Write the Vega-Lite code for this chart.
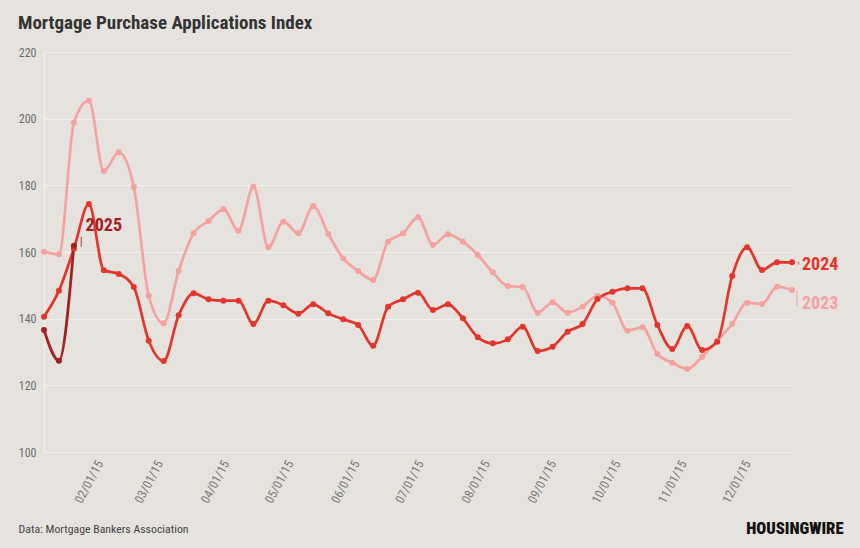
{
  "$schema": "https://vega.github.io/schema/vega-lite/v6.json",
  "width": 748,
  "height": 400,
  "autosize": {"type": "none"},
  "padding": {"left": 44, "top": 52, "right": 68, "bottom": 96},
  "background": "#e6e3df",
  "config": {
    "view": {"stroke": null},
    "font": "Roboto Condensed, Liberation Sans Narrow, DejaVu Sans Condensed, Roboto, sans-serif"
  },
  "title": {
    "text": "Mortgage Purchase Applications Index",
    "anchor": "start",
    "frame": "group",
    "dx": -26,
    "fontSize": 19,
    "fontWeight": "bold",
    "color": "#333333",
    "baseline": "alphabetic",
    "offset": -2
  },
  "data": {
    "values": [
      {"series": "2023", "date": "2015-01-06", "value": 160.1},
      {"series": "2023", "date": "2015-01-13", "value": 159.3},
      {"series": "2023", "date": "2015-01-20", "value": 198.8},
      {"series": "2023", "date": "2015-01-27", "value": 205.4},
      {"series": "2023", "date": "2015-02-03", "value": 184.3},
      {"series": "2023", "date": "2015-02-10", "value": 189.9},
      {"series": "2023", "date": "2015-02-17", "value": 179.6},
      {"series": "2023", "date": "2015-02-24", "value": 146.9},
      {"series": "2023", "date": "2015-03-03", "value": 138.6},
      {"series": "2023", "date": "2015-03-10", "value": 154.3},
      {"series": "2023", "date": "2015-03-17", "value": 165.6},
      {"series": "2023", "date": "2015-03-24", "value": 169.3},
      {"series": "2023", "date": "2015-03-31", "value": 172.8},
      {"series": "2023", "date": "2015-04-07", "value": 166.4},
      {"series": "2023", "date": "2015-04-14", "value": 179.6},
      {"series": "2023", "date": "2015-04-21", "value": 161.4},
      {"series": "2023", "date": "2015-04-28", "value": 169.1},
      {"series": "2023", "date": "2015-05-05", "value": 165.6},
      {"series": "2023", "date": "2015-05-12", "value": 173.8},
      {"series": "2023", "date": "2015-05-19", "value": 165.4},
      {"series": "2023", "date": "2015-05-26", "value": 158.1},
      {"series": "2023", "date": "2015-06-02", "value": 154.3},
      {"series": "2023", "date": "2015-06-09", "value": 151.6},
      {"series": "2023", "date": "2015-06-16", "value": 163.1},
      {"series": "2023", "date": "2015-06-23", "value": 165.6},
      {"series": "2023", "date": "2015-06-30", "value": 170.4},
      {"series": "2023", "date": "2015-07-07", "value": 162.1},
      {"series": "2023", "date": "2015-07-14", "value": 165.3},
      {"series": "2023", "date": "2015-07-21", "value": 163.1},
      {"series": "2023", "date": "2015-07-28", "value": 159.1},
      {"series": "2023", "date": "2015-08-04", "value": 153.9},
      {"series": "2023", "date": "2015-08-11", "value": 149.8},
      {"series": "2023", "date": "2015-08-18", "value": 149.5},
      {"series": "2023", "date": "2015-08-25", "value": 141.8},
      {"series": "2023", "date": "2015-09-01", "value": 144.9},
      {"series": "2023", "date": "2015-09-08", "value": 141.8},
      {"series": "2023", "date": "2015-09-15", "value": 143.6},
      {"series": "2023", "date": "2015-09-22", "value": 146.8},
      {"series": "2023", "date": "2015-09-29", "value": 144.8},
      {"series": "2023", "date": "2015-10-06", "value": 136.4},
      {"series": "2023", "date": "2015-10-13", "value": 137.4},
      {"series": "2023", "date": "2015-10-20", "value": 129.4},
      {"series": "2023", "date": "2015-10-27", "value": 126.8},
      {"series": "2023", "date": "2015-11-03", "value": 124.9},
      {"series": "2023", "date": "2015-11-10", "value": 128.6},
      {"series": "2023", "date": "2015-11-17", "value": 133.4},
      {"series": "2023", "date": "2015-11-24", "value": 138.4},
      {"series": "2023", "date": "2015-12-01", "value": 144.8},
      {"series": "2023", "date": "2015-12-08", "value": 144.4},
      {"series": "2023", "date": "2015-12-15", "value": 149.6},
      {"series": "2023", "date": "2015-12-22", "value": 148.6},
      {"series": "2024", "date": "2015-01-06", "value": 140.6},
      {"series": "2024", "date": "2015-01-13", "value": 148.4},
      {"series": "2024", "date": "2015-01-20", "value": 161.0},
      {"series": "2024", "date": "2015-01-27", "value": 174.4},
      {"series": "2024", "date": "2015-02-03", "value": 154.5},
      {"series": "2024", "date": "2015-02-10", "value": 153.4},
      {"series": "2024", "date": "2015-02-17", "value": 149.5},
      {"series": "2024", "date": "2015-02-24", "value": 133.4},
      {"series": "2024", "date": "2015-03-03", "value": 127.3},
      {"series": "2024", "date": "2015-03-10", "value": 141.0},
      {"series": "2024", "date": "2015-03-17", "value": 147.6},
      {"series": "2024", "date": "2015-03-24", "value": 145.8},
      {"series": "2024", "date": "2015-03-31", "value": 145.4},
      {"series": "2024", "date": "2015-04-07", "value": 145.4},
      {"series": "2024", "date": "2015-04-14", "value": 138.4},
      {"series": "2024", "date": "2015-04-21", "value": 145.4},
      {"series": "2024", "date": "2015-04-28", "value": 144.0},
      {"series": "2024", "date": "2015-05-05", "value": 141.5},
      {"series": "2024", "date": "2015-05-12", "value": 144.3},
      {"series": "2024", "date": "2015-05-19", "value": 141.6},
      {"series": "2024", "date": "2015-05-26", "value": 139.8},
      {"series": "2024", "date": "2015-06-02", "value": 138.1},
      {"series": "2024", "date": "2015-06-09", "value": 131.9},
      {"series": "2024", "date": "2015-06-16", "value": 143.6},
      {"series": "2024", "date": "2015-06-23", "value": 145.8},
      {"series": "2024", "date": "2015-06-30", "value": 147.8},
      {"series": "2024", "date": "2015-07-07", "value": 142.6},
      {"series": "2024", "date": "2015-07-14", "value": 144.3},
      {"series": "2024", "date": "2015-07-21", "value": 140.1},
      {"series": "2024", "date": "2015-07-28", "value": 134.4},
      {"series": "2024", "date": "2015-08-04", "value": 132.6},
      {"series": "2024", "date": "2015-08-11", "value": 133.8},
      {"series": "2024", "date": "2015-08-18", "value": 137.6},
      {"series": "2024", "date": "2015-08-25", "value": 130.3},
      {"series": "2024", "date": "2015-09-01", "value": 131.6},
      {"series": "2024", "date": "2015-09-08", "value": 136.1},
      {"series": "2024", "date": "2015-09-15", "value": 138.4},
      {"series": "2024", "date": "2015-09-22", "value": 145.9},
      {"series": "2024", "date": "2015-09-29", "value": 148.1},
      {"series": "2024", "date": "2015-10-06", "value": 149.1},
      {"series": "2024", "date": "2015-10-13", "value": 149.1},
      {"series": "2024", "date": "2015-10-20", "value": 138.1},
      {"series": "2024", "date": "2015-10-27", "value": 130.9},
      {"series": "2024", "date": "2015-11-03", "value": 137.8},
      {"series": "2024", "date": "2015-11-10", "value": 130.6},
      {"series": "2024", "date": "2015-11-17", "value": 133.1},
      {"series": "2024", "date": "2015-11-24", "value": 152.8},
      {"series": "2024", "date": "2015-12-01", "value": 161.4},
      {"series": "2024", "date": "2015-12-08", "value": 154.6},
      {"series": "2024", "date": "2015-12-15", "value": 156.9},
      {"series": "2024", "date": "2015-12-22", "value": 156.9},
      {"series": "2025", "date": "2015-01-06", "value": 136.6},
      {"series": "2025", "date": "2015-01-13", "value": 127.4},
      {"series": "2025", "date": "2015-01-20", "value": 161.9}
    ]
  },
  "encoding": {
    "x": {
      "field": "date",
      "type": "temporal",
      "scale": {
        "type": "utc",
        "domain": [
          {"year": 2015, "month": 1, "date": 6, "utc": true},
          {"year": 2015, "month": 12, "date": 22, "utc": true}
        ]
      },
      "axis": {
        "values": [
          {"year": 2015, "month": 2, "date": 1, "utc": true},
          {"year": 2015, "month": 3, "date": 1, "utc": true},
          {"year": 2015, "month": 4, "date": 1, "utc": true},
          {"year": 2015, "month": 5, "date": 1, "utc": true},
          {"year": 2015, "month": 6, "date": 1, "utc": true},
          {"year": 2015, "month": 7, "date": 1, "utc": true},
          {"year": 2015, "month": 8, "date": 1, "utc": true},
          {"year": 2015, "month": 9, "date": 1, "utc": true},
          {"year": 2015, "month": 10, "date": 1, "utc": true},
          {"year": 2015, "month": 11, "date": 1, "utc": true},
          {"year": 2015, "month": 12, "date": 1, "utc": true}
        ],
        "labelExpr": "utcFormat(datum.value, '%m/%d/%y')",
        "labelAngle": -62,
        "labelColor": "#7a7a7a",
        "labelFontSize": 12.5,
        "labelPadding": 9,
        "labelOverlap": false,
        "domain": false,
        "ticks": false,
        "grid": false,
        "title": "Data: Mortgage Bankers Association",
        "titleX": -26,
        "titleY": 80,
        "titleAlign": "left",
        "titleAnchor": null,
        "titleBaseline": "alphabetic",
        "titleFontWeight": "normal",
        "titleFontSize": 11.8,
        "titleColor": "#444444"
      }
    },
    "y": {
      "field": "value",
      "type": "quantitative",
      "scale": {"domain": [100, 220], "nice": false, "zero": false},
      "axis": {
        "values": [100, 120, 140, 160, 180, 200, 220],
        "labelColor": "#6b6b6b",
        "labelFontSize": 12,
        "labelPadding": 8,
        "ticks": false,
        "domainColor": "#f3f1ee",
        "gridColor": "#f3f1ee",
        "gridWidth": 1,
        "title": "HOUSINGWIRE",
        "titleAngle": 0,
        "titleX": 799,
        "titleY": 481,
        "titleAlign": "right",
        "titleBaseline": "alphabetic",
        "titleFontSize": 16.5,
        "titleFontWeight": 900,
        "titleColor": "#111111"
      }
    },
    "color": {
      "field": "series",
      "type": "nominal",
      "scale": {"domain": ["2023", "2024", "2025"], "range": ["#f3a29e", "#e2352c", "#a3201f"]},
      "legend": null
    }
  },
  "layer": [
    {
      "mark": {"type": "line", "interpolate": "monotone", "strokeWidth": 2.7, "point": {"filled": true, "size": 36, "opacity": 1}}
    },
    {
      "transform": [{"filter": {"and": [{"field": "series", "equal": "2024"}, {"field": "date", "equal": {"year": 2015, "month": 12, "date": 22, "utc": true}}]}}],
      "mark": {"type": "text", "align": "left", "baseline": "middle", "dx": 10, "dy": 3, "fontSize": 18, "fontWeight": "bold"},
      "encoding": {"text": {"field": "series"}}
    },
    {
      "transform": [{"filter": {"and": [{"field": "series", "equal": "2023"}, {"field": "date", "equal": {"year": 2015, "month": 12, "date": 22, "utc": true}}]}}],
      "mark": {"type": "text", "align": "left", "baseline": "middle", "dx": 10, "dy": 14, "fontSize": 18, "fontWeight": "bold"},
      "encoding": {"text": {"field": "series"}}
    },
    {
      "transform": [{"filter": {"and": [{"field": "series", "equal": "2023"}, {"field": "date", "equal": {"year": 2015, "month": 12, "date": 22, "utc": true}}]}}],
      "mark": {"type": "tick", "orient": "vertical", "size": 15, "thickness": 1.5, "color": "#b0aca8", "xOffset": 5, "yOffset": 8.5}
    },
    {
      "transform": [{"filter": {"and": [{"field": "series", "equal": "2024"}, {"field": "date", "equal": {"year": 2015, "month": 12, "date": 22, "utc": true}}]}}],
      "mark": {"type": "tick", "orient": "vertical", "size": 3, "thickness": 1.2, "color": "#b0aca8", "xOffset": 6.5, "yOffset": 1}
    },
    {
      "transform": [{"filter": {"and": [{"field": "series", "equal": "2025"}, {"field": "date", "equal": {"year": 2015, "month": 1, "date": 20, "utc": true}}]}}],
      "mark": {"type": "tick", "orient": "vertical", "size": 10, "thickness": 1.2, "color": "#b0aca8", "xOffset": 7.4, "yOffset": -4}
    },
    {
      "transform": [{"filter": {"and": [{"field": "series", "equal": "2025"}, {"field": "date", "equal": {"year": 2015, "month": 1, "date": 20, "utc": true}}]}}],
      "mark": {"type": "text", "align": "left", "baseline": "middle", "dx": 11.7, "dy": -20, "fontSize": 18, "fontWeight": "bold"},
      "encoding": {"text": {"field": "series"}}
    }
  ]
}
